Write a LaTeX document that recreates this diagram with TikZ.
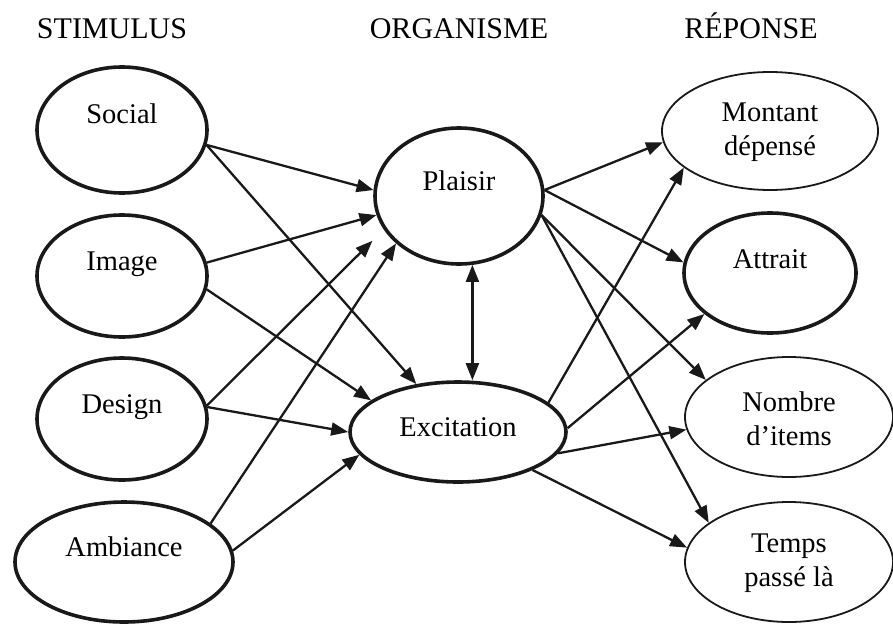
\documentclass[tikz,border=0pt]{standalone}
\usepackage{fontspec}
\setmainfont{Liberation Serif}
\usetikzlibrary{shapes.geometric,arrows.meta}
\begin{document}
\begin{tikzpicture}[x=1pt,y=-1pt,
  oval/.style={ellipse, draw=black!90, inner sep=0pt},
  bold/.style={oval, line width=3.6pt},
  thin/.style={oval, line width=1.8pt},
  txt/.style={font=\fontsize{28.5}{34}\selectfont, align=center, inner sep=0pt,
              text height=19pt, text depth=6pt},
  txttwo/.style={font=\fontsize{28.5}{34}\selectfont, align=center, inner sep=0pt},
  head/.style={font=\fontsize{30}{34}\selectfont, inner sep=0pt, anchor=base},
  link/.style={line width=2.3pt, draw=black!90,
               -{Triangle[length=17pt,width=13pt]}},
  link2/.style={line width=2.3pt, draw=black!90,
               {Triangle[length=17pt,width=13pt]}-{Triangle[length=17pt,width=13pt]}}
]
\useasboundingbox (0,0) rectangle (893,624);

% column headings
\node[head] (hs) at (112,38) {STIMULUS};
\node[head] (ho) at (459,38) {ORGANISME};
\node[head] (hr) at (751,38) {RÉPONSE};

% stimulus column
\node[bold, minimum width=170pt, minimum height=126pt,
      label={[txt, yshift=13pt]center:Social}] (social) at (122,130) {};
\node[bold, minimum width=170pt, minimum height=122pt,
      label={[txt, yshift=12pt]center:Image}] (image) at (122,276) {};
\node[bold, minimum width=170pt, minimum height=122pt,
      label={[txt, yshift=12pt]center:Design}] (design) at (122,419) {};
\node[bold, minimum width=218pt, minimum height=120pt,
      label={[txt, yshift=12pt]center:Ambiance}] (ambiance) at (124,562) {};

% organism column
\node[bold, minimum width=168pt, minimum height=136pt,
      label={[txt, yshift=12pt]center:Plaisir}] (plaisir) at (459,196) {};
\node[bold, minimum width=216pt, minimum height=100pt,
      label={[txt, yshift=2pt]center:Excitation}] (exc) at (458,432) {};

% response column
\node[thin, minimum width=216pt, minimum height=118pt,
      label={[txttwo, yshift=-1pt]center:Montant\\dépensé}] (montant) at (770,131) {};
\node[bold, minimum width=172pt, minimum height=120pt,
      label={[txt, yshift=11pt]center:Attrait}] (attrait) at (770,273) {};
\node[thin, minimum width=208pt, minimum height=120pt,
      label={[txttwo, yshift=-2pt]center:Nombre\\d’items}] (nombre) at (789,417) {};
\node[thin, minimum width=208pt, minimum height=120pt,
      label={[txttwo, yshift=-1pt]center:Temps\\passé là}] (temps) at (789,562) {};

% stimulus -> organism
\draw[link] (social.-10) -- (plaisir.176);
\draw[link] (social.-10) -- (exc.131);
\draw[link] (image.9) -- (plaisir.193);
\draw[link] (image.-9) -- (exc.160);
\draw[link, shorten >=16pt] (design.9) -- (plaisir.204);
\draw[link] (design.8) -- (exc.180);
\draw[link] (ambiance.24) -- (plaisir.217);
\draw[link] (ambiance.6) -- (exc.193);

% organism internal link
\draw[link2] (plaisir.-79) -- (plaisir.-79 |- exc.north);

% organism -> response
\draw[link] (plaisir.4) -- (montant.186);
\draw[link] (plaisir.4) -- (attrait.173);
\draw[link] (plaisir.-13) -- (nombre.156);
\draw[link] (plaisir.-13) -- (temps.154);
\draw[link] (exc.18) -- (montant.203);
\draw[link] (exc.2) -- (attrait.212);
\draw[link] (exc.-12) -- (nombre.187);
\draw[link] (exc.-27) -- (temps.172);
\end{tikzpicture}
\end{document}
